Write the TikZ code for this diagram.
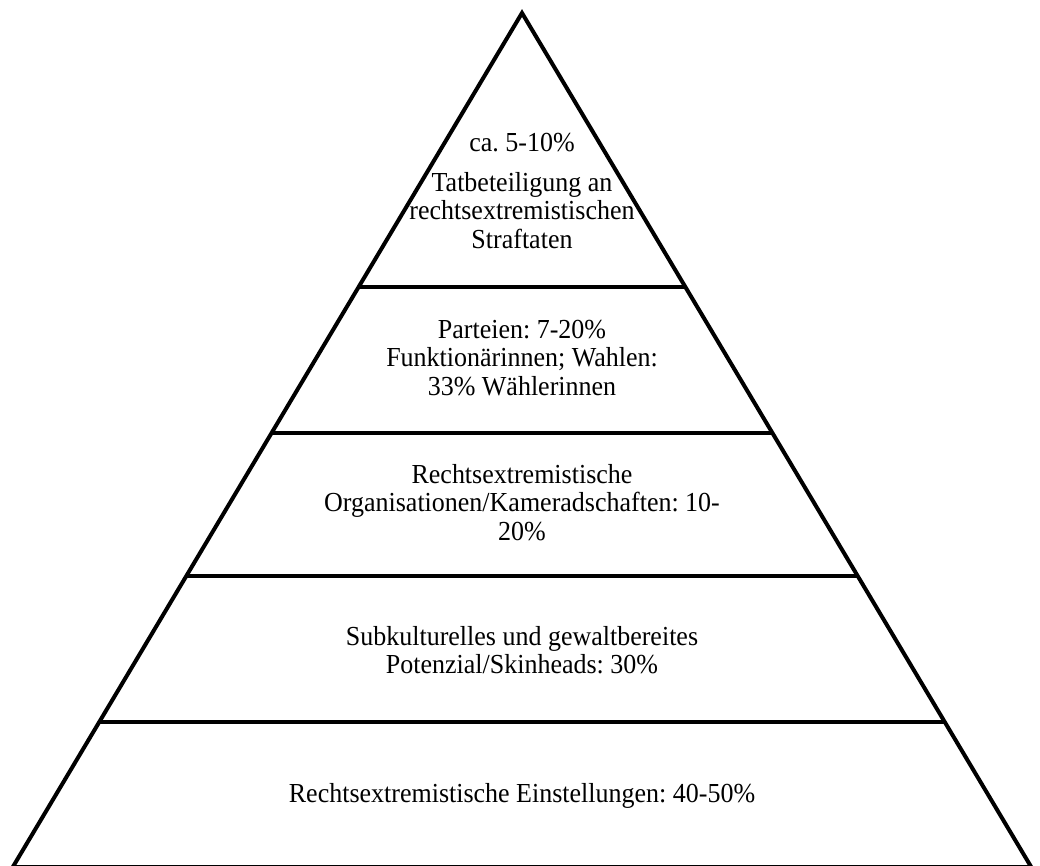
\documentclass[tikz,border=0pt]{standalone}
\usepackage{fontspec}
\setmainfont{Liberation Serif}[FakeStretch=0.945]
\usetikzlibrary{calc}
\tikzset{
    pyramid/.style={line width=4pt,line join=miter},
    tier/.style={anchor=north,align=center,inner sep=0pt,font=\fontsize{27.5}{28.4}\selectfont\frenchspacing}
}
\begin{document}
\begin{tikzpicture}[x=1pt,y=-1pt]
        \useasboundingbox(0,0)rectangle(1040,866);
        \coordinate(A)at(522,13);
        \coordinate(B)at(12.8,867);
        \coordinate(C)at(1031.2,867);
        \draw[pyramid](B)--(A)--(C)--cycle;
        \foreach \y in {287,433,576,722}
            \draw[pyramid]($(A)!{(\y-13)/854}!(B)$)--($(A)!{(\y-13)/854}!(C)$);
        \node(t1)[tier]at(522,133){ca. 5-10\%\\[11.5pt]Tatbeteiligung an\\rechtsextremistischen\\Straftaten};
        \node(t2)[tier]at(522,320){Parteien: 7-20\%\\Funktionärinnen; Wahlen:\\33\% Wählerinnen};
        \node(t3)[tier]at(522,464){Rechtsextremistische\\Organisationen/Kameradschaften: 10-\\20\%};
        \node(t4)[tier]at(522,626){Subkulturelles und gewaltbereites\\Potenzial/Skinheads: 30\%};
        \node(t5)[tier]at(522,783){Rechtsextremistische Einstellungen: 40-50\%};
    \end{tikzpicture}
\end{document}
